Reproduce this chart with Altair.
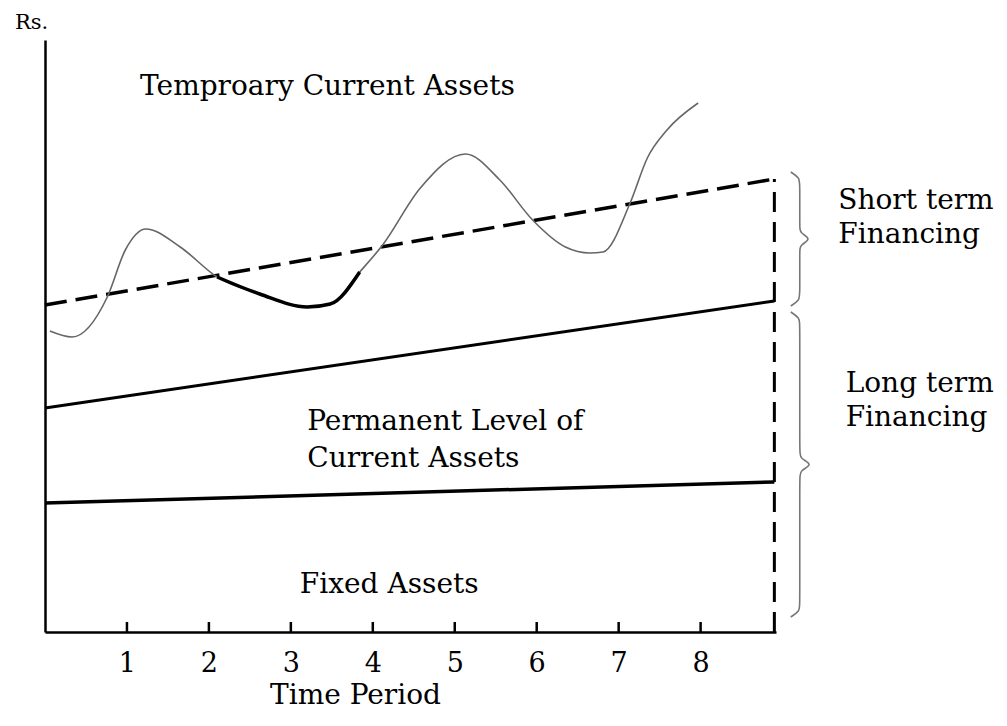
import altair as alt
import pandas as pd

# ---------------- data ----------------
x_end = 8.9                      # last time point (dashed vertical line)
tick_pos = [1, 2, 3, 4, 5, 6, 7, 8]

fixed_y = [129, 150]             # fixed assets level at x=0 and x=x_end
permanent_y = [224, 331]         # permanent current assets level
dashed_y = [327, 453]            # total (long-term financing) level

wave_x = [0.06, 0.33, 0.76, 0.98, 1.23, 1.65, 2.10, 2.62, 3.20, 3.48,
          3.84, 4.12, 4.58, 5.13, 5.55, 5.95, 6.35, 6.65, 6.81, 7.14, 7.35,
          7.59, 7.97]
wave_y = [301, 295, 335, 382, 403, 385, 355, 338, 325, 328,
          360, 387, 444, 478, 452, 412, 385, 379, 380, 429, 474,
          502, 529]
bold_from, bold_to = 2.10, 3.84  # part of the curve drawn heavy

label_text = ["Temproary Current Assets", "Permanent Level of\nCurrent Assets",
              "Fixed Assets"]
label_x = [1.16, 3.20, 3.11]
label_y = [537, 202, 39]

side_text = ["Short term\nFinancing", "Long term\nFinancing"]
side_x = [9.68, 9.77]
side_y = [423, 240]

FONT = "DejaVu Serif"

# ---------------- tables ----------------
wave = pd.DataFrame({"x": wave_x, "y": wave_y})
bold = wave[(wave.x >= bold_from) & (wave.x <= bold_to)]
fixed = pd.DataFrame({"x": [0, x_end], "y": fixed_y})
perm = pd.DataFrame({"x": [0, x_end], "y": permanent_y})
dash = pd.DataFrame({"x": [0, x_end], "y": dashed_y})
ticks = pd.DataFrame({"x": tick_pos})
vline = pd.DataFrame({"x": [x_end], "y": [0], "y2": [dashed_y[1]]})
labels = pd.DataFrame({"t": label_text, "x": label_x, "y": label_y})
sides = pd.DataFrame({"t": side_text, "x": side_x, "y": side_y})


def brace(y0, y1, xb=9.21, d=0.11, d2=0.15, r=6, name="b"):
    ym = (y0 + y1) / 2
    pts = [(xb - d, y1), (xb, y1 - r), (xb, y1 - 2 * r), (xb, ym + 2 * r),
           (xb, ym + r), (xb + d2, ym), (xb, ym - r), (xb, ym - 2 * r),
           (xb, y0 + 2 * r), (xb, y0 + r), (xb - d, y0)]
    return pd.DataFrame({"x": [p[0] for p in pts], "y": [p[1] for p in pts],
                         "i": list(range(len(pts))), "b": name})


braces = pd.concat([brace(permanent_y[1] - 5, dashed_y[1] + 7, name="s"),
                    brace(15, permanent_y[1] - 11, d2=0.17, name="l")])

xs = alt.Scale(domain=[0, 8.92], nice=False, zero=False)
ys = alt.Scale(domain=[0, 592], nice=False, zero=False)

X = alt.X("x:Q", scale=xs,
          axis=alt.Axis(title="Time Period", values=tick_pos, format="d",
                        ticks=False, tickSize=0, grid=False,
                        domainColor="black", domainWidth=2.5,
                        labelFont=FONT, labelFontSize=27, labelColor="black",
                        labelBaseline="alphabetic", labelPadding=39,
                        titleFont=FONT, titleFontSize=28, titleFontWeight="normal",
                        titleColor="black", titleX=310, titleY=71,
                        titleBaseline="alphabetic", titleAlign="center"))
Y = alt.Y("y:Q", scale=ys,
          axis=alt.Axis(title="Rs.", labels=False, ticks=False, grid=False,
                        domainColor="black", domainWidth=2.5,
                        titleFont=FONT, titleFontSize=21, titleFontWeight="normal",
                        titleColor="black", titleAngle=0, titleX=-14, titleY=-12,
                        titleBaseline="alphabetic", titleAlign="center"))

xx = alt.X("x:Q", scale=xs)
yy = alt.Y("y:Q", scale=ys)

base_fixed = alt.Chart(fixed).mark_line(color="black", strokeWidth=3.5).encode(x=X, y=Y)
l_perm = alt.Chart(perm).mark_line(color="black", strokeWidth=3).encode(x=xx, y=yy)
l_dash = alt.Chart(dash).mark_line(color="black", strokeWidth=3.5,
                                   strokeDash=[22, 9]).encode(x=xx, y=yy)
l_v = alt.Chart(vline).mark_rule(color="black", strokeWidth=3,
                                 strokeDash=[20, 10]).encode(
    x=xx, y=yy, y2="y2:Q")
l_ticks = alt.Chart(ticks).mark_rule(color="black", strokeWidth=2.5).encode(
    x=xx, y=alt.datum(0, scale=ys), y2=alt.datum(10))
l_wave = alt.Chart(wave).mark_line(color="#666666", strokeWidth=1.6,
                                   interpolate="monotone").encode(x=xx, y=yy)
l_bold = alt.Chart(bold).mark_line(color="black", strokeWidth=3.5,
                                   interpolate="monotone").encode(x=xx, y=yy)
l_brace = alt.Chart(braces).mark_line(color="#777777", strokeWidth=1.6,
                                      interpolate="basis").encode(
    x=xx, y=yy, order="i:Q", detail="b:N")
t_lab = alt.Chart(labels).mark_text(font=FONT, fontSize=28, align="left",
                                    baseline="alphabetic", lineBreak="\n",
                                    lineHeight=37, color="black").encode(
    x=xx, y=yy, text="t:N")
t_side = alt.Chart(sides).mark_text(font=FONT, fontSize=28, align="left",
                                    baseline="alphabetic", lineBreak="\n",
                                    lineHeight=34, color="black").encode(
    x=xx, y=yy, text="t:N")

chart = alt.layer(base_fixed, l_perm, l_dash, l_v, l_ticks, l_wave, l_bold,
                  l_brace, t_lab, t_side).properties(
    width=731, height=592,
    autosize=alt.AutoSizeParams(type="none"),
    padding={"left": 37, "top": 32, "right": 223, "bottom": 84},
    background="white",
).configure_view(stroke=None)

chart.save("out.html", embed_options={"renderer": "svg", "actions": False})
